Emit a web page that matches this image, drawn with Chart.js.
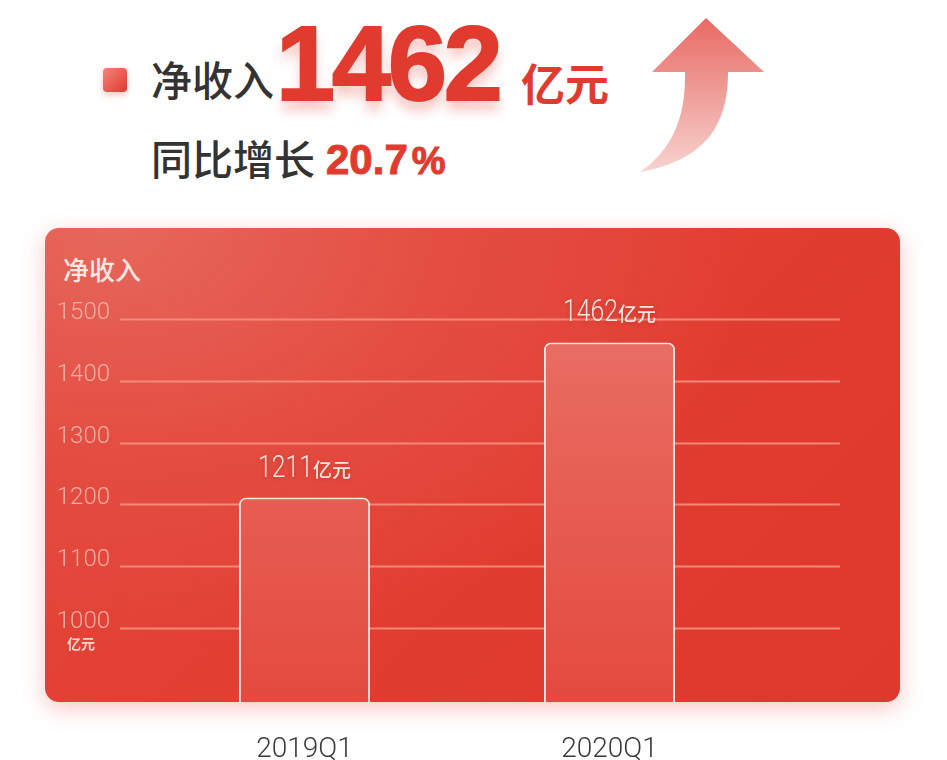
<!DOCTYPE html>
<html>
<head>
<meta charset="utf-8">
<script src="https://cdn.jsdelivr.net/npm/chart.js@4.4.1/dist/chart.umd.min.js"></script>
<style>
  html,body{margin:0;padding:0;background:#fff;}
  body{width:947px;height:760px;position:relative;overflow:hidden;font-family:"Noto Sans CJK SC","Noto Sans",sans-serif;}
  .abs{position:absolute;white-space:nowrap;line-height:1;}
  #bullet{left:103px;top:68px;width:24px;height:24px;border-radius:4px;background:linear-gradient(135deg,#f3857b,#e0392d);box-shadow:0 3px 6px rgba(224,60,50,0.3);}
  .dark{color:#333;font-weight:500;}
  .red{color:#e13b2f;font-weight:700;}
  #big{left:276px;top:10px;font-family:"Liberation Sans",Arial,sans-serif;font-size:106px;font-weight:700;color:#e13a2e;letter-spacing:-3px;-webkit-text-stroke:2px #e13a2e;text-shadow:0 10px 12px rgba(225,60,48,0.30);}
  #panel{left:45px;top:228px;width:855px;height:474px;border-radius:14px;
    background:radial-gradient(ellipse 75% 90% at 8% 0%, #e6675c 0%, #e44c40 55%, rgba(226,60,48,0) 100%), linear-gradient(135deg,#e4483c 0%,#e13c30 60%,#df382c 100%);
    box-shadow:0 6px 22px rgba(232,90,80,0.35);}
  #panelTitle{left:63px;top:256px;font-size:26px;color:#fde7e3;font-weight:500;}
  canvas{position:absolute;left:0;top:0;}
</style>
</head>
<body>
<div id="bullet" class="abs"></div>
<div class="abs dark" style="left:151px;top:58px;font-size:41px;">净收入</div>
<div id="big" class="abs">1462</div>
<div class="abs red" style="left:521px;top:60px;font-size:44px;">亿元</div>
<div class="abs dark" style="left:151px;top:137px;font-size:41px;">同比增长</div>
<div class="abs red" style="left:326px;top:139px;font-size:42px;font-family:'Liberation Sans',Arial,sans-serif;-webkit-text-stroke:1px #e13b2f;">20.7<span style="font-size:38px;margin-left:4px;">%</span></div>
<svg class="abs" style="left:0;top:0;" width="947" height="220">
  <defs>
    <linearGradient id="ag" x1="0" y1="0" x2="0" y2="1">
      <stop offset="0" stop-color="#e86a63"/>
      <stop offset="1" stop-color="#f7d3cf"/>
    </linearGradient>
  </defs>
  <path d="M652,72 L706,18 L764,72 L728,72 C728,125 706,160 640,172 C672,150 686,118 685,72 Z" fill="url(#ag)"/>
</svg>
<div id="panel" class="abs"></div>
<div id="panelTitle" class="abs">净收入</div>
<canvas id="c" width="947" height="760"></canvas>
<script>
const categories = ['2019Q1', '2020Q1'];
const revenue = [1211, 1462];
const yTickValues = [1000, 1100, 1200, 1300, 1400, 1500];
const unitLabel = '亿元';

const gridPlugin = {
  id: 'gridPlugin',
  beforeDatasetsDraw(chart) {
    const {ctx, chartArea, scales} = chart;
    ctx.save();
    ctx.strokeStyle = 'rgba(247,140,128,0.95)';
    ctx.lineWidth = 2;
    yTickValues.forEach(v => {
      const y = Math.round(scales.y.getPixelForValue(v)) + 0.5;
      ctx.beginPath();
      ctx.moveTo(chartArea.left - 32, y);
      ctx.lineTo(chartArea.right + 78, y);
      ctx.stroke();
    });
    const y0 = scales.y.getPixelForValue(yTickValues[0]);
    ctx.fillStyle = '#fcd3cd';
    ctx.font = '700 14px "Noto Sans CJK SC"';
    ctx.textBaseline = 'middle';
    ctx.textAlign = 'left';
    ctx.fillText(unitLabel, 67, y0 + 16);
    ctx.restore();
  }
};

const labelPlugin = {
  id: 'labelPlugin',
  afterDatasetsDraw(chart) {
    const {ctx} = chart;
    const meta = chart.getDatasetMeta(0);
    ctx.save();
    meta.data.forEach((bar, i) => {
      const num = String(revenue[i]);
      const sx = 0.8;
      ctx.font = '300 31px Roboto';
      const wNum = ctx.measureText(num).width * sx;
      ctx.font = '500 19px "Noto Sans CJK SC"';
      const wUnit = ctx.measureText(unitLabel).width;
      const total = wNum + wUnit;
      const x0 = bar.x - total / 2;
      const yb = bar.y - 21;
      ctx.shadowColor = 'rgba(150,20,10,0.35)';
      ctx.shadowBlur = 4;
      ctx.shadowOffsetY = 1;
      ctx.fillStyle = '#fde6e2';
      ctx.textBaseline = 'alphabetic';
      ctx.textAlign = 'left';
      ctx.save();
      ctx.translate(x0, yb);
      ctx.scale(sx, 1);
      ctx.font = '300 31px Roboto';
      ctx.fillText(num, 0, 0);
      ctx.restore();
      ctx.font = '500 19px "Noto Sans CJK SC"';
      ctx.fillText(unitLabel, x0 + wNum, yb);
    });
    ctx.restore();
  }
};

const ctx = document.getElementById('c').getContext('2d');
new Chart(ctx, {
  type: 'bar',
  data: {
    labels: categories,
    datasets: [{
      data: revenue,
      backgroundColor(c) {
        const area = c.chart.chartArea;
        if (!area) return '#e65a4f';
        const g = c.chart.ctx.createLinearGradient(0, area.top, 0, area.bottom);
        g.addColorStop(0, '#e96f65');
        g.addColorStop(0.5, '#e65c51');
        g.addColorStop(1, '#e44a3f');
        return g;
      },
      borderColor: '#fde4e0',
      borderWidth: {top: 2, left: 2, right: 2, bottom: 0},
      borderSkipped: 'bottom',
      borderRadius: {topLeft: 7, topRight: 7, bottomLeft: 0, bottomRight: 0},
      barPercentage: 0.43,
      categoryPercentage: 1
    }]
  },
  options: {
    responsive: false,
    animation: false,
    layout: {padding: {left: 0, right: 185, top: 319, bottom: 0}},
    plugins: {legend: {display: false}, tooltip: {enabled: false}},
    scales: {
      x: {
        offset: true,
        grid: {display: false, drawTicks: false},
        border: {display: false},
        ticks: {color: '#3a3a3a', font: {family: 'Roboto', size: 28, weight: 300}, padding: 31},
        afterFit(a) { a.height = 58; }
      },
      y: {
        min: 880,
        max: 1500,
        afterBuildTicks(a) { a.ticks = yTickValues.map(v => ({value: v})); },
        grid: {display: false, drawTicks: false},
        border: {display: false},
        ticks: {
          color: '#f7ada4',
          font: {family: 'Roboto', size: 24, weight: 300},
          padding: 42,
          labelOffset: -6,
          callback: v => String(v)
        },
        afterFit(a) { a.width = 152; }
      }
    }
  },
  plugins: [gridPlugin, labelPlugin]
});
</script>
</body>
</html>
